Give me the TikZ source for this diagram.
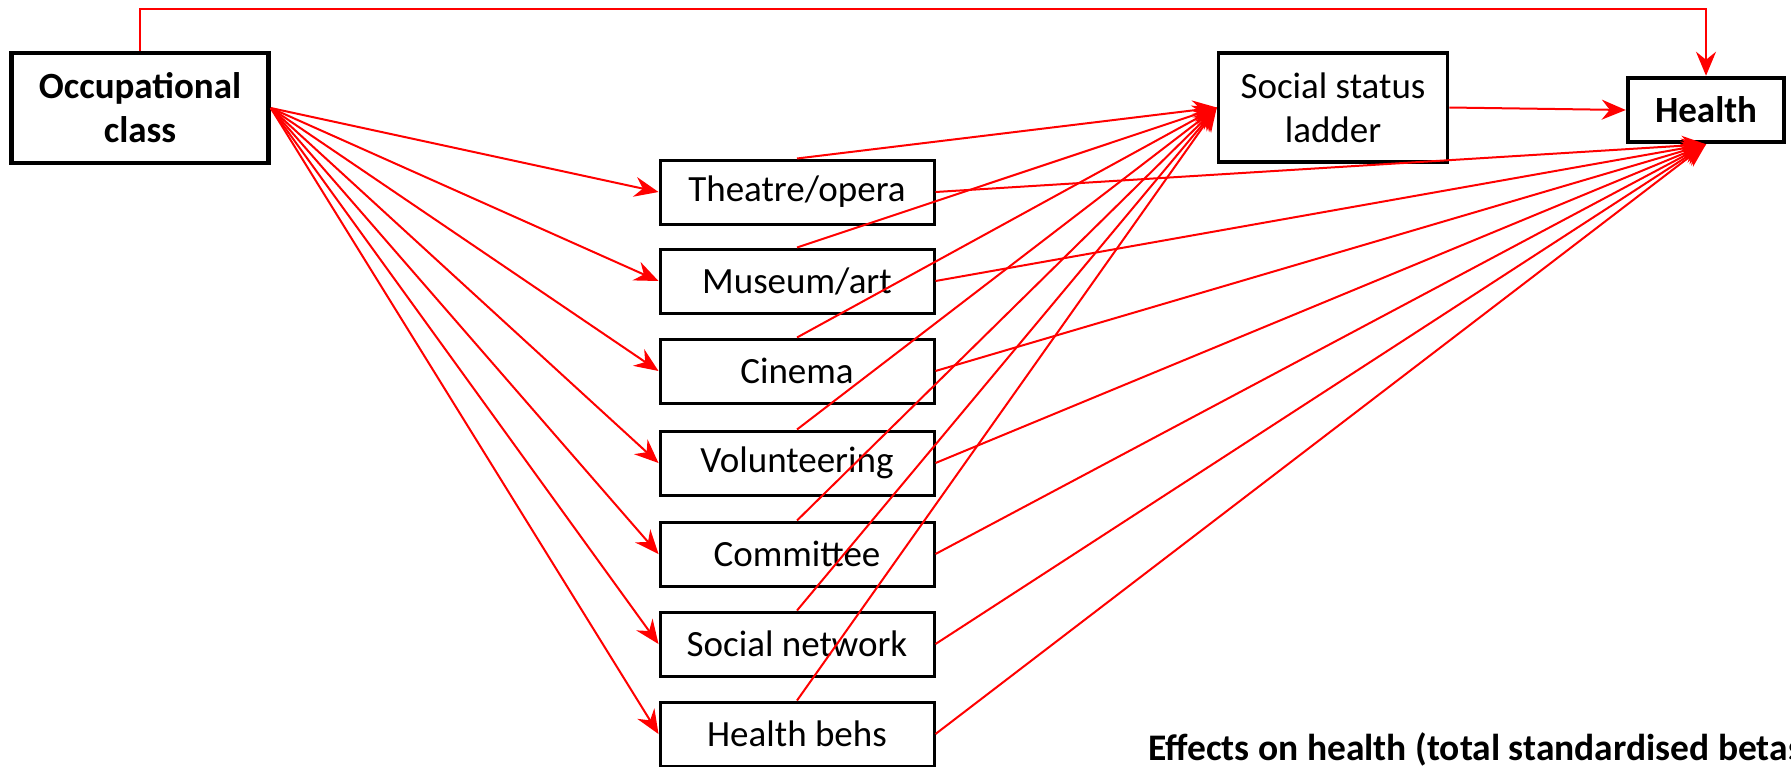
\documentclass[tikz,border=0pt]{standalone}
\usepackage{fontspec}
\setmainfont{Carlito}
\usetikzlibrary{arrows.meta}
\begin{document}
\begin{tikzpicture}[x=1pt,y=-1pt,
  midbox/.style={draw=black,line width=3pt,minimum width=274pt,minimum height=64pt,inner sep=0pt,font=\fontsize{37}{44}\selectfont,align=center},
  bigbox/.style={draw=black,line width=4.5pt,inner sep=0pt,align=center,font=\fontsize{37}{44}\selectfont\bfseries},
  conn/.style={draw=red,line width=2pt,-{Stealth[length=24pt,width=20pt,inset=8pt]}}]
\useasboundingbox (0,0) rectangle (1791,766);
\node[bigbox,minimum width=257pt,minimum height=110pt] (occ) at (140,108) {Occupational\\class};
\node[midbox,line width=3.5pt,minimum width=229pt,minimum height=109pt] (ss) at (1333,107.5) {Social status\\ladder};
\node[bigbox,minimum width=156pt,minimum height=64pt] (health) at (1706,110) {Health};
\node[midbox] (b1) at (797,192) {Theatre/opera};
\node[midbox] (b2) at (797,281) {Museum/art};
\node[midbox] (b3) at (797,371) {Cinema};
\node[midbox] (b4) at (797,463) {Volunteering};
\node[midbox] (b5) at (797,554) {Committee};
\node[midbox] (b6) at (797,644) {Social network};
\node[midbox] (b7) at (797,734) {Health behs};
\node[anchor=west,font=\fontsize{37.5}{42}\selectfont\bfseries,inner sep=0pt] (eff) at (1148,749) {Effects on health (total standardised betas)};
\coordinate (topy) at (0,9);
\draw[conn] (occ.north) -- (occ.north |- topy) -| (health.north);
\draw[conn] (ss.east) -- (health.west);
\foreach \b in {b1,b2,b3,b4,b5,b6,b7}{
  \draw[conn] (occ.east) -- (\b.west);
  \draw[conn] (\b.north) -- (ss.west);
  \draw[conn] (\b.east) -- (health.south);
}
\end{tikzpicture}
\end{document}
